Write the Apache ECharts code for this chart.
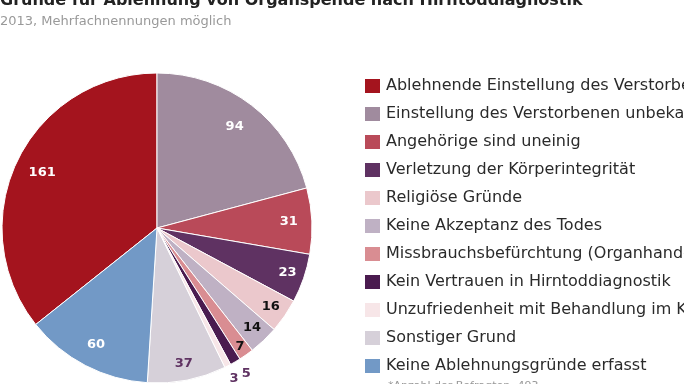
<!DOCTYPE html>
<html>
<head>
<meta charset="utf-8">
<script src="https://cdn.jsdelivr.net/npm/echarts@6/dist/echarts.min.js"></script>
<style>html,body{margin:0;padding:0;background:#fff}#c{width:684px;height:384px}</style>
</head>
<body>
<div id="c"></div>
<script>
const categories = [
  "Ablehnende Einstellung des Verstorbenen",
  "Einstellung des Verstorbenen unbekannt",
  "Angehörige sind uneinig",
  "Verletzung der Körperintegrität",
  "Religiöse Gründe",
  "Keine Akzeptanz des Todes",
  "Missbrauchsbefürchtung (Organhandel)",
  "Kein Vertrauen in Hirntoddiagnostik",
  "Unzufriedenheit mit Behandlung im Krankenhaus",
  "Sonstiger Grund",
  "Keine Ablehnungsgründe erfasst"
];
const values = [161, 94, 31, 23, 16, 14, 7, 5, 3, 37, 60];
const colors = ["#a4141e", "#a08b9e", "#b94a59", "#5f3262", "#ebc8cc", "#bfb1c4", "#d98d92", "#4a1b4f", "#f7e6e8", "#d6d0d9", "#7299c6"];
const labelColors = ["#fff", "#fff", "#fff", "#fff", "#111", "#111", "#111", "#5f3262", "#5f3262", "#5f3262", "#fff"];
// which label ring each value label sits in
const labelRing = [0, 0, 1, 2, 2, 2, 3, 4, 5, 2, 1];

const total = values.reduce((a, b) => a + b, 0);
const startAngle = 90 + values[0] / total * 360;
const font = "DejaVu Sans";
const center = [157, 228];
const R = 155;
const ringRadii = [[94, R], [103, R], [115, R], [128, R], [R, R + 22], [R, R + 22]];
const ringPadding = [0, 0, 0, 0, [0, 0, 4, 8], 0];

function labelSeries(ring) {
  return {
    type: 'pie', center: center, radius: ringRadii[ring], startAngle: startAngle, clockwise: true,
    avoidLabelOverlap: false, silent: true, labelLine: { show: false },
    labelLayout: { hideOverlap: false },
    itemStyle: { color: 'transparent', borderWidth: 0 },
    data: categories.map((n, i) => ({ name: n, value: values[i],
      label: { show: labelRing[i] === ring, position: 'inside', color: labelColors[i],
        padding: ringPadding[ring],
        fontFamily: font, fontSize: 13, fontWeight: 'bold', formatter: '{c}' } }))
  };
}

const chart = echarts.init(document.getElementById('c'));
chart.setOption({
  animation: false,
  title: [
    { text: "Gründe für Ablehnung von Organspende nach Hirntoddiagnostik", left: 0, top: -7, padding: 0,
      textStyle: { fontFamily: font, fontSize: 16, fontWeight: 'bold', color: '#222' } },
    { text: "2013, Mehrfachnennungen möglich", left: 0, top: 15, padding: 0,
      textStyle: { fontFamily: font, fontSize: 13, fontWeight: 'normal', color: '#999' } }
  ],
  legend: {
    orient: 'vertical', left: 363, top: 77, padding: 0,
    itemWidth: 17, itemHeight: 16, itemGap: 10,
    icon: 'rect',
    data: categories,
    textStyle: { fontFamily: font, fontSize: 16, lineHeight: 16, color: '#2a2a2a' },
    selectedMode: false
  },
  graphic: [
    { type: 'text', left: 388, top: 381, style: { text: "*Anzahl der Befragten: 493", fontFamily: font, fontSize: 11, fill: '#999' } }
  ],
  series: [
    {
      type: 'pie', center: center, radius: [0, R], startAngle: startAngle, clockwise: true,
      avoidLabelOverlap: false, silent: true,
      label: { show: false }, labelLine: { show: false },
      itemStyle: { borderColor: '#fff', borderWidth: 1 },
      data: categories.map((n, i) => ({ name: n, value: values[i], itemStyle: { color: colors[i] } }))
    },
    labelSeries(0), labelSeries(1), labelSeries(2), labelSeries(3), labelSeries(4), labelSeries(5)
  ]
});
</script>
</body>
</html>
